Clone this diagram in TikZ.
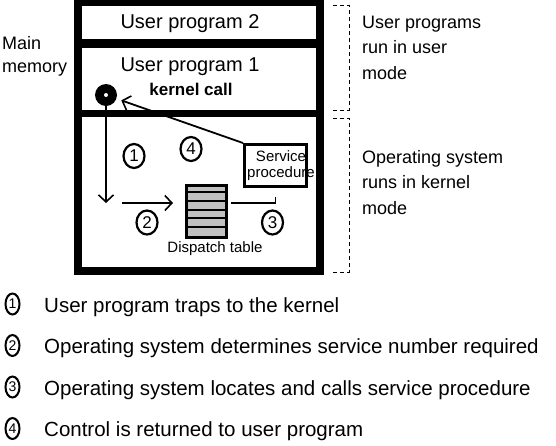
\documentclass[tikz,border=0pt]{standalone}
\usepackage{fontspec}
\setmainfont{Liberation Sans}
\usetikzlibrary{shapes.geometric,arrows.meta,calc}
\definecolor{tablegray}{RGB}{192,192,192}
\begin{document}
\begin{tikzpicture}[x=1pt,y=-1pt,
  txt/.style={inner sep=0pt, anchor=base},
  arr/.style={line width=1.8pt, -{Straight Barb[length=7pt,width=15pt,line width=1.6pt]}},
  num/.style={inner sep=0pt, font=\fontsize{17}{17}\selectfont},
  lnum/.style={inner sep=0pt, font=\fontsize{14}{14}\selectfont},
  ring/.style={line width=2.2pt},
  bracket/.style={line width=1pt, dash pattern=on 4pt off 3pt},
  sidetxt/.style={inner sep=0pt, anchor=base west, align=left, font=\fontsize{18}{25.5}\selectfont},
  legtxt/.style={inner sep=0pt, anchor=base west, font=\fontsize{20.5}{20.5}\selectfont}]
\useasboundingbox (0,0) rectangle (556,445);
% memory block
\fill (74,0) rectangle (324,275);
\fill[white] (82,6) rectangle (316,39);
\fill[white] (82,48) rectangle (316,110);
\fill[white] (82,117) rectangle (316,267);
% texts in user area
\node[txt, font=\fontsize{20}{20}\selectfont] (up2) at (190,28) {User program 2};
\node[txt, font=\fontsize{20}{20}\selectfont] (up1) at (190,71) {User program 1};
\node[txt, font=\fontsize{17}{17}\selectfont\bfseries] (kc) at (191,95) {kernel call};
% trap point
\node[circle, fill, minimum size=22pt, inner sep=0pt] (trap) at (106,95) {};
\fill[white] (trap.center) circle (2pt);
% service procedure
\node[draw, line width=3pt, minimum width=62pt, minimum height=42pt, inner sep=0pt] (svc) at (275.5,165.5) {};
\node[inner sep=0pt, align=center, font=\fontsize{15}{16}\selectfont] (svctxt) at (281,166) {Service\\procedure};
% dispatch table
\node[draw, line width=3pt, fill=tablegray, minimum width=40pt, minimum height=52pt, inner sep=0pt] (tab) at (206.5,211) {};
\foreach \k in {1,...,5}
  \draw[line width=2pt] ($(tab.north west)+(0,\k*8.667)$) -- ($(tab.north east)+(0,\k*8.667)$);
\node[txt, font=\fontsize{15}{15}\selectfont] (tablbl) at (215,252) {Dispatch table};
% connectors
\coordinate (vend) at (106,203);
\coordinate (hstart) at (122,203);
\draw[arr, shorten >=5pt] (svc.north west) -- (trap);
\draw[arr] (trap) -- (vend);
\draw[arr] (hstart) -- ($(tab.west |- hstart)+(-12,0)$);
\draw[line width=1.8pt] ($(tab.east |- hstart)+(3,0)$) -| ($(svc.south)+(0,8.5)$);
% step numbers
\foreach \n/\x/\y in {1/134/156, 4/191/149, 2/147/222.5, 3/272.5/222.5} {
  \node[num] (n\n) at (\x,\y) {\n};
  \draw[ring] (n\n.center) ellipse [x radius=10.5pt, y radius=12pt];
}
% side labels (anchor is the last line's baseline)
\node[sidetxt, font=\fontsize{18}{23}\selectfont] (mm) at (2,72) {Main\\memory};
\node[sidetxt] (um) at (362,79) {User programs\\run in user\\mode};
\node[sidetxt] (km) at (362,214) {Operating system\\runs in kernel\\mode};
\draw[bracket] (333,5) -- (349,5) -- (349,110) -- (333,110);
\draw[bracket] (333,118) -- (349,118) -- (349,272) -- (333,272);
% legend
\foreach \n/\y/\t in {1/304/User program traps to the kernel,
                      2/345.5/Operating system determines service number required,
                      3/387/Operating system locates and calls service procedure,
                      4/428.5/Control is returned to user program} {
  \node[lnum] (l\n) at (12.5,\y) {\n};
  \draw[ring, line width=2pt] (l\n.center) ellipse [x radius=7pt, y radius=10.5pt];
  \node[legtxt] (t\n) at (44,\y+8) {\t};
}
\end{tikzpicture}
\end{document}
